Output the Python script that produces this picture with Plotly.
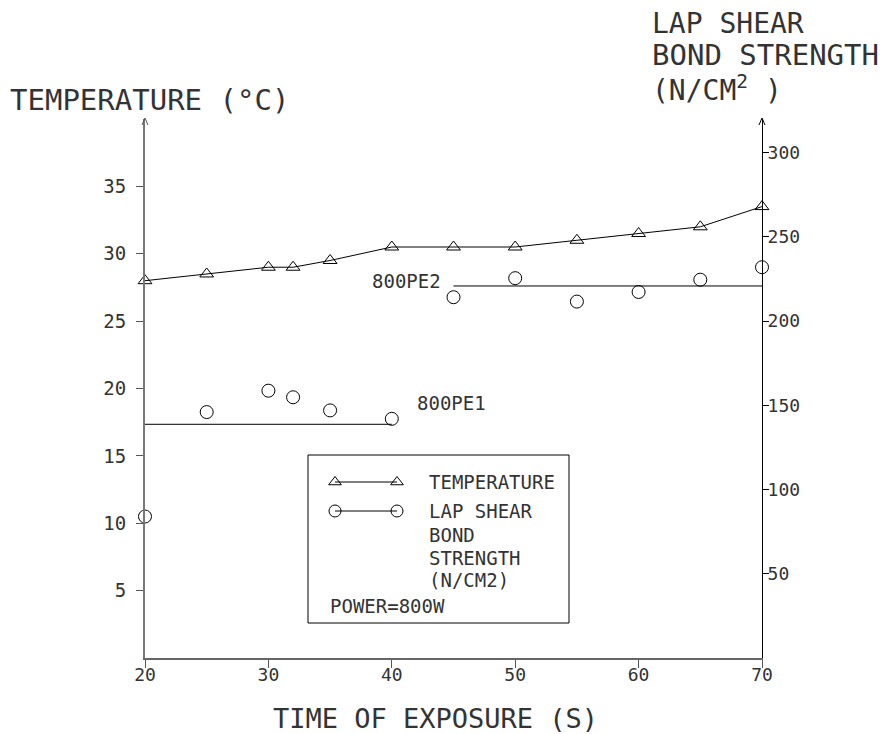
import numpy as np
import plotly.graph_objects as go

# ---- data ----
time_s = [20, 25, 30, 32, 35, 40, 45, 50, 55, 60, 65, 70]
temperature_c = [28, 28.5, 29, 29, 29.5, 30.5, 30.5, 30.5, 31, 31.5, 32, 33.5]
bond_strength = [84, 146, 158.7, 154.8, 147, 142, 214.2, 225.5, 211.6, 217.3, 224.6, 232]
group_names = ["800PE1", "800PE2"]
group_slices = [(0, 6), (6, 12)]
x_ticks = [20, 30, 40, 50, 60, 70]
left_ticks = [5, 10, 15, 20, 25, 30, 35]
right_ticks = [50, 100, 150, 200, 250, 300]

FONT = "DejaVu Sans Mono"
TXT = "#333333"

# plot-area pixel geometry
L, R, T, B = 145, 762, 119, 658
W, H = 892, 734

def px(x):
    return (x - L) / (R - L)

def py(y):
    return (B - y) / (B - T)

fig = go.Figure()

# temperature line with open triangles
fig.add_trace(go.Scatter(
    x=time_s, y=temperature_c, mode="lines+markers",
    line=dict(color="black", width=1),
    marker=dict(symbol="triangle-up-open", size=12, color="black", line=dict(width=1)),
    yaxis="y", showlegend=False, cliponaxis=False))

# bond strength circles
fig.add_trace(go.Scatter(
    x=time_s, y=bond_strength, mode="markers",
    marker=dict(symbol="circle-open", size=13, color="black", line=dict(width=1)),
    yaxis="y2", showlegend=False, cliponaxis=False))

# group mean lines
for name, (a, b) in zip(group_names, group_slices):
    xs = time_s[a:b]
    m = float(np.mean(bond_strength[a:b]))
    fig.add_trace(go.Scatter(
        x=[xs[0], xs[-1]], y=[m, m], mode="lines",
        line=dict(color="black", width=1), yaxis="y2", showlegend=False, cliponaxis=False))

# legend samples (pixel overlay axes)
fig.add_trace(go.Scatter(
    x=[335, 397], y=[482, 482], mode="lines+markers", xaxis="x3", yaxis="y3",
    line=dict(color="black", width=1),
    marker=dict(symbol="triangle-up-open", size=11, color="black", line=dict(width=1)),
    showlegend=False, cliponaxis=False))
fig.add_trace(go.Scatter(
    x=[335, 397], y=[511, 511], mode="lines+markers", xaxis="x3", yaxis="y3",
    line=dict(color="black", width=1),
    marker=dict(symbol="circle-open", size=12, color="black", line=dict(width=1)),
    showlegend=False, cliponaxis=False))

ann = []
def txt(x, y, s, size, xanchor="left", yanchor="middle"):
    ann.append(dict(x=px(x), y=py(y), xref="paper", yref="paper", text=s, showarrow=False,
                    xanchor=xanchor, yanchor=yanchor,
                    font=dict(family=FONT, size=size, color=TXT)))

# titles
txt(8, 100, "TEMPERATURE (°C)", 29)
txt(650, 23, "LAP SHEAR", 28)
txt(650, 55, "BOND STRENGTH", 29)
txt(650, 89, "(N/CM<sup>2</sup> )", 28)
txt(435, 718, "TIME OF EXPOSURE (S)", 27, xanchor="center")

# group labels
txt(443, 281, group_names[1], 19, xanchor="right")
txt(415, 403, group_names[0], 19)

# legend text
txt(427, 482, "TEMPERATURE", 19)
txt(427, 511, "LAP SHEAR", 19)
txt(427, 535, "BOND", 19)
txt(427, 558, "STRENGTH", 19)
txt(427, 580, "(N/CM2)", 19)
txt(328, 606, "POWER=800W", 19)

shapes = [dict(type="rect", xref="paper", yref="paper", x0=px(308), x1=px(569),
               y0=py(623), y1=py(455), line=dict(color="black", width=1))]

# axis arrowheads
for xa, col in [(L, "#555"), (R, "black")]:
    path = "M {:.5f},{:.5f} L {:.5f},{:.5f} L {:.5f},{:.5f}".format(
        px(xa - 3), py(T + 6), px(xa), py(T - 1), px(xa + 3), py(T + 6))
    shapes.append(dict(type="path", xref="paper", yref="paper", path=path,
                       line=dict(color=col, width=1)))

tickfont = dict(family=FONT, size=18, color=TXT)
fig.update_layout(
    width=W, height=H,
    margin=dict(l=L, r=W - R, t=T, b=H - B),
    paper_bgcolor="white", plot_bgcolor="white",
    font=dict(family=FONT, color=TXT),
    xaxis=dict(range=[20, 70], tickvals=x_ticks, ticks="outside", ticklen=8,
               tickcolor="#555", showline=True, linecolor="#666", linewidth=1.5,
               showgrid=False, zeroline=False, tickfont=tickfont, ticklabelstandoff=-8),
    yaxis=dict(range=[0, 40], tickvals=left_ticks, ticks="outside", ticklen=7,
               tickcolor="#555", showline=True, linecolor="#777", linewidth=2,
               showgrid=False, zeroline=False, tickfont=dict(family=FONT, size=19, color=TXT),
               ticklabelstandoff=6),
    yaxis2=dict(range=[0, 320], overlaying="y", side="right", tickvals=right_ticks,
                ticks="outside", ticklen=6, tickcolor="black", showline=True,
                linecolor="black", linewidth=1, showgrid=False, zeroline=False,
                tickfont=tickfont, ticklabelstandoff=-5),
    xaxis3=dict(range=[L, R], overlaying="x", anchor="y3", visible=False, fixedrange=True),
    yaxis3=dict(range=[B, T], overlaying="y", anchor="x3", visible=False, fixedrange=True),
    annotations=ann, shapes=shapes, showlegend=False,
)

fig.write_html("out.html")
